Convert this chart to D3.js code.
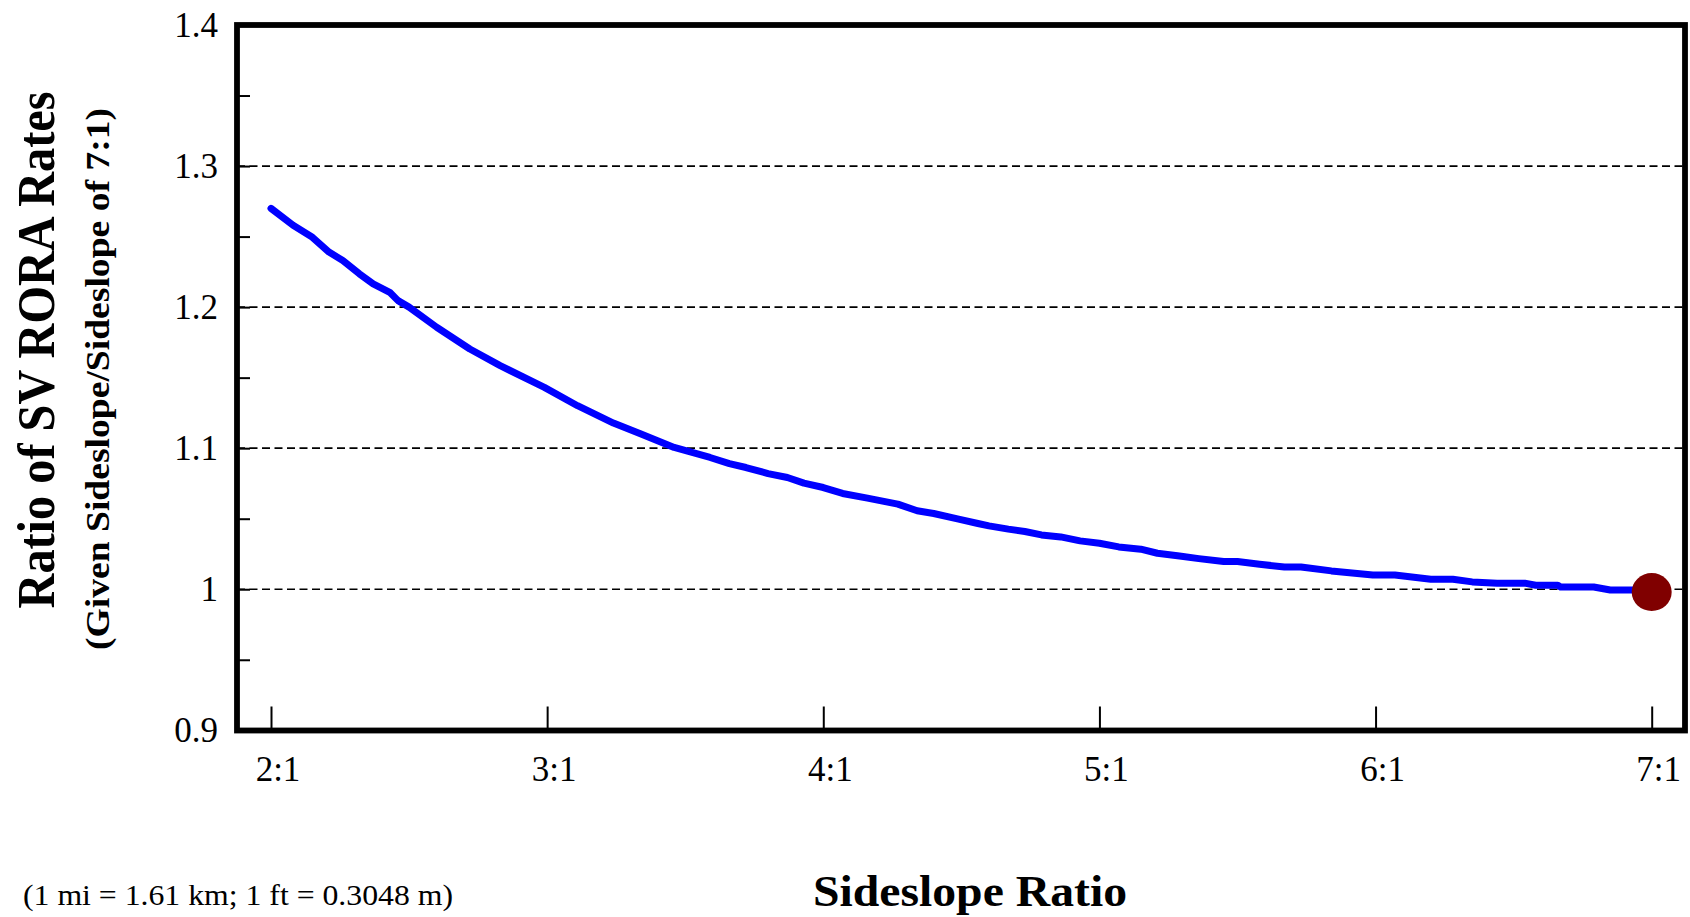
<!DOCTYPE html>
<html>
<head>
<meta charset="utf-8">
<script src="https://cdn.jsdelivr.net/npm/d3@7"></script>
<style>
  html, body { margin: 0; padding: 0; background: #fff; }
  svg { display: block; }
</style>
</head>
<body>
<svg id="chart" width="1690" height="917"></svg>
<script>
// ---- data ----
const sideslopeRatio = [2.00, 2.08, 2.15, 2.21, 2.26, 2.32, 2.37, 2.43, 2.46, 2.50, 2.60, 2.72, 2.83, 2.99, 3.11, 3.24, 3.34, 3.46, 3.59, 3.66, 3.72, 3.80, 3.87, 3.93, 4.00, 4.07, 4.16, 4.27, 4.34, 4.40, 4.49, 4.56, 4.60, 4.67, 4.73, 4.79, 4.86, 4.93, 5.00, 5.07, 5.15, 5.21, 5.29, 5.36, 5.45, 5.50, 5.58, 5.67, 5.73, 5.84, 5.99, 6.07, 6.20, 6.28, 6.35, 6.44, 6.54, 6.58, 6.66, 6.67, 6.79, 6.85, 6.93, 7.00];
const rateRatio = [1.270, 1.258, 1.2495, 1.239, 1.233, 1.2236, 1.2165, 1.2105, 1.2046, 1.200, 1.1857, 1.1703, 1.1585, 1.1431, 1.1301, 1.1178, 1.110, 1.1005, 1.0934, 1.0891, 1.0863, 1.0820, 1.0792, 1.0752, 1.0721, 1.0679, 1.0646, 1.0603, 1.0556, 1.0537, 1.0497, 1.0466, 1.0449, 1.0426, 1.0409, 1.0385, 1.0371, 1.0343, 1.0326, 1.0300, 1.0284, 1.0255, 1.0236, 1.0217, 1.0196, 1.0196, 1.0177, 1.0158, 1.0158, 1.013, 1.0101, 1.0101, 1.0071, 1.0071, 1.0052, 1.0043, 1.0043, 1.0028, 1.0028, 1.0016, 1.0016, 0.9995, 0.9995, 0.999];
const referencePoint = [7, 0.998];
const xTickValues = [2, 3, 4, 5, 6, 7];
const xTickLabels = ["2:1", "3:1", "4:1", "5:1", "6:1", "7:1"];
const yTickValues = [0.9, 1.0, 1.1, 1.2, 1.3, 1.4];
const yTickLabels = ["0.9", "1", "1.1", "1.2", "1.3", "1.4"];
const yMinorTicks = [0.95, 1.05, 1.15, 1.25, 1.35];
const gridValues = [1.0, 1.1, 1.2, 1.3];

// ---- layout ----
const svg = d3.select("#chart");
const frame = { left: 237, right: 1685, top: 25, bottom: 730.5 };
const x = d3.scaleLinear().domain([2, 7]).range([271, 1651.7]);
const y = d3.scaleLinear().domain([0.9, 1.4]).range([730.3, 25]);
const serif = "'Liberation Serif', 'Times New Roman', Times, serif";

// gridlines
svg.append("g").selectAll("line").data(gridValues).join("line")
  .attr("x1", frame.left).attr("x2", frame.right)
  .attr("y1", d => y(d)).attr("y2", d => y(d))
  .attr("stroke", "#000").attr("stroke-width", 1.7)
  .attr("stroke-dasharray", "8,4.5");

// y axis ticks (inward)
const yAxis = d3.axisRight(y)
  .tickValues(yTickValues.concat(yMinorTicks))
  .tickSize(13).tickFormat("");
svg.append("g").attr("transform", `translate(${frame.left},0)`).call(yAxis)
  .call(g => g.select(".domain").remove())
  .call(g => g.selectAll(".tick line").attr("stroke", "#000").attr("stroke-width", 2));

// x axis ticks (inward)
const xAxis = d3.axisTop(x).tickValues(xTickValues).tickSize(24).tickFormat("");
svg.append("g").attr("transform", `translate(0,${frame.bottom})`).call(xAxis)
  .call(g => g.select(".domain").remove())
  .call(g => g.selectAll(".tick line").attr("stroke", "#000").attr("stroke-width", 2));

// y tick labels
svg.append("g").selectAll("text").data(yTickValues).join("text")
  .attr("x", 218).attr("y", d => y(d) + 12)
  .attr("text-anchor", "end")
  .attr("font-family", serif).attr("font-size", 35)
  .text((d, i) => yTickLabels[i]);

// x tick labels
svg.append("g").selectAll("text").data(xTickValues).join("text")
  .attr("x", d => x(d) + 7).attr("y", 781)
  .attr("text-anchor", "middle")
  .attr("font-family", serif).attr("font-size", 35)
  .text((d, i) => xTickLabels[i]);

// data line
const line = d3.line().x((d, i) => x(sideslopeRatio[i])).y(d => y(d)).curve(d3.curveLinear);
svg.append("path").datum(rateRatio)
  .attr("d", line)
  .attr("fill", "none").attr("stroke", "#0000ff")
  .attr("stroke-width", 7).attr("stroke-linecap", "round").attr("stroke-linejoin", "round");

// reference marker
svg.append("ellipse")
  .attr("cx", x(referencePoint[0])).attr("cy", y(referencePoint[1]))
  .attr("rx", 20).attr("ry", 19)
  .attr("fill", "#800000");

// frame
svg.append("rect")
  .attr("x", frame.left).attr("y", frame.top)
  .attr("width", frame.right - frame.left).attr("height", frame.bottom - frame.top)
  .attr("fill", "none").attr("stroke", "#000").attr("stroke-width", 5.8);

// axis titles
svg.append("text")
  .attr("transform", "translate(54,350) rotate(-90)")
  .attr("text-anchor", "middle")
  .attr("font-family", serif).attr("font-weight", "bold").attr("font-size", 52)
  .attr("textLength", 517).attr("lengthAdjust", "spacingAndGlyphs")
  .text("Ratio of SV RORA Rates");

svg.append("text")
  .attr("transform", "translate(109,379) rotate(-90)")
  .attr("text-anchor", "middle")
  .attr("font-family", serif).attr("font-weight", "bold").attr("font-size", 34)
  .attr("textLength", 542).attr("lengthAdjust", "spacingAndGlyphs")
  .text("(Given Sideslope/Sideslope of 7:1)");

svg.append("text")
  .attr("x", 970).attr("y", 906)
  .attr("text-anchor", "middle")
  .attr("font-family", serif).attr("font-weight", "bold").attr("font-size", 44)
  .attr("textLength", 314).attr("lengthAdjust", "spacingAndGlyphs")
  .text("Sideslope Ratio");

svg.append("text")
  .attr("x", 23).attr("y", 905)
  .attr("font-family", serif).attr("font-size", 30)
  .attr("textLength", 430).attr("lengthAdjust", "spacingAndGlyphs")
  .text("(1 mi = 1.61 km; 1 ft = 0.3048 m)");
</script>
</body>
</html>
